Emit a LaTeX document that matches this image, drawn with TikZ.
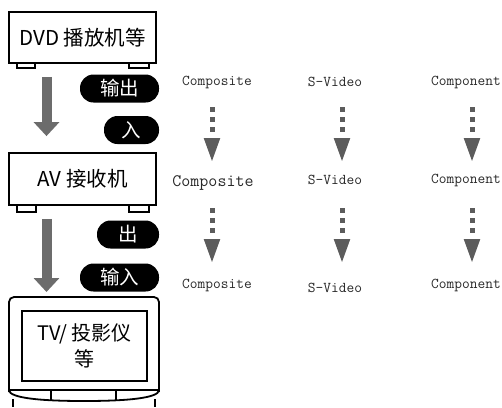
\documentclass[tikz,border=0pt]{standalone}
\usepackage{fontspec}
\newfontfamily\cjk{Noto Sans CJK SC}
\usetikzlibrary{arrows.meta}
\definecolor{arrgray}{RGB}{108,108,108}
\definecolor{dotgray}{RGB}{92,92,92}
\definecolor{lblcol}{RGB}{40,40,40}
\begin{document}
\begin{tikzpicture}[x=1pt,y=-1pt,
  box/.style={draw, line width=1.8pt, fill=white, inner sep=0pt, font=\cjk\fontsize{20.5}{24}\selectfont},
  pill/.style={fill=black, text=white, rounded corners=13.5pt, minimum height=28pt, inner sep=0pt, font=\cjk\fontsize{19.5}{22}\selectfont},
  lbl/.style={font=\ttfamily\fontsize{15}{18}\selectfont, text=lblcol, inner sep=0pt},
  bigarrow/.style={draw=arrgray, line width=10pt, -{Triangle[width=25pt,length=14pt]}},
  dotarrow/.style={draw=dotgray, line width=5pt, dash pattern=on 5pt off 5pt on 5pt off 5pt on 5pt off 60pt, -{Triangle[width=15pt,length=24pt]}},
  part/.style={line width=1.8pt}
]
\useasboundingbox (0,0) rectangle (502,407);

% devices
\node[box, minimum width=147pt, minimum height=51pt] (dvd) at (82.5,37.5) {DVD 播放机等};
\draw[part] (17,63) -- (17,68) -- (35,68) -- (35,63);
\draw[part] (129,63) -- (129,68) -- (149,68) -- (149,63);

\node[box, minimum width=147pt, minimum height=52pt] (av) at (82.5,179) {AV 接收机};
\draw[part] (17,205) -- (17,212) -- (36,212) -- (36,205);
\draw[part] (129,205) -- (129,212) -- (149,212) -- (149,205);

% TV body
\draw[part, rounded corners=5pt] (9,392) -- (9,297) -- (159,297) -- (159,392);
\draw[part] (9,390) .. controls (9,398) and (40,401) .. (84,401) .. controls (128,401) and (159,398) .. (159,390);
\draw[line width=1.2pt] (9,390) -- (159,390);
\draw[line width=1.2pt] (51,390) -- (51,400);
\draw[line width=1.2pt] (116,390) -- (116,400);
\draw[part] (13,399) -- (13,407);
\draw[part] (155,399) -- (155,407);
\coordinate (tvtop) at (84,297);
\node[draw, line width=1.4pt, minimum width=125pt, minimum height=70pt, align=center,
      font=\cjk\fontsize{20}{26}\selectfont, inner sep=0pt] (tv) at (84.5,346) {TV/ 投影仪\\等};

% big arrows
\coordinate (ax) at (46.5,0);
\draw[bigarrow, shorten <=13pt, shorten >=16pt] (dvd.south -| ax) -- (av.north -| ax);
\draw[bigarrow, shorten <=13pt, shorten >=5pt] (av.south -| ax) -- (tvtop -| ax);

% pills
\node[pill, minimum width=79pt] (out1) at (119.5,88.5) {输出};
\node[pill, minimum width=55pt] (in1) at (131.5,130) {入};
\node[pill, minimum width=62pt] (out2) at (128,234.5) {出};
\node[pill, minimum width=79pt] (in2) at (119.5,277.5) {输入};

% labels
\node[lbl] (c1) at (217,82) {Composite};
\node[lbl] (s1) at (335,82) {S-Video};
\node[lbl] (k1) at (466,82) {Component};
\node[lbl, font=\ttfamily\fontsize{17.5}{20}\selectfont] (c2) at (213,183) {Composite};
\node[lbl] (s2) at (335,180) {S-Video};
\node[lbl] (k2) at (466,180) {Component};
\node[lbl] (c3) at (217,285) {Composite};
\node[lbl] (s3) at (335,288) {S-Video};
\node[lbl] (k3) at (466,285) {Component};

% dotted arrows
\coordinate (x1) at (212,0);
\coordinate (x2) at (342,0);
\coordinate (x3) at (472,0);
\draw[dotarrow, shorten <=25pt, shorten >=21pt] (c1 -| x1) -- (c2 -| x1);
\draw[dotarrow, shorten <=25pt, shorten >=22pt] (c2 -| x1) -- (c3 -| x1);
\draw[dotarrow, shorten <=25pt, shorten >=18pt] (s1 -| x2) -- (s2 -| x2);
\draw[dotarrow, shorten <=28pt, shorten >=25pt] (s2 -| x2) -- (s3 -| x2);
\draw[dotarrow, shorten <=25pt, shorten >=18pt] (k1 -| x3) -- (k2 -| x3);
\draw[dotarrow, shorten <=28pt, shorten >=22pt] (k2 -| x3) -- (k3 -| x3);
\end{tikzpicture}
\end{document}
